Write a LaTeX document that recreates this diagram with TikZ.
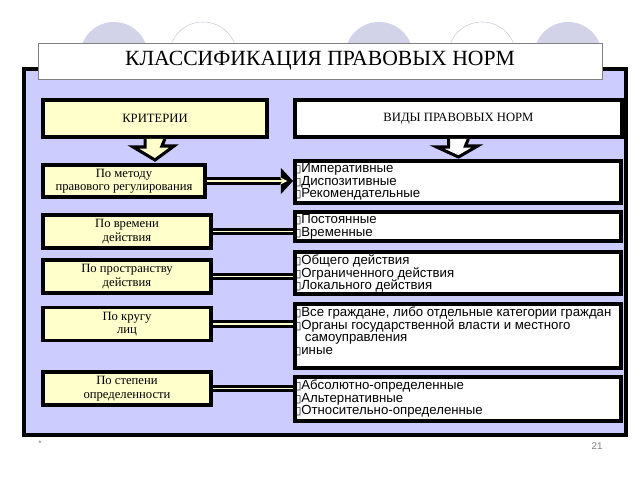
\documentclass[tikz,border=0pt]{standalone}
\usepackage{fontspec}
\setmainfont{Liberation Serif}
\setsansfont{Liberation Sans}
\newfontfamily\symfont{DejaVu Sans}
\usepackage{tikz}
\definecolor{panelfill}{RGB}{204,204,255}
\definecolor{critfill}{RGB}{255,255,204}
\definecolor{ballfill}{RGB}{210,210,232}
\definecolor{ballline}{RGB}{205,205,218}
\newcommand{\bx}{\smash{{\symfont\fontsize{7.5}{7.5}\selectfont ▯}}}
\newcommand{\kindfont}{\sffamily\fontsize{9.4}{8.9}\selectfont\lineskiplimit=-6pt\relax}

\begin{document}
\begin{tikzpicture}[x=0.025cm,y=-0.025cm]
\tikzstyle{every node}+=[inner sep=0pt]
\tikzstyle{critbox}=[draw=black,line width=2.8pt,fill=critfill,align=center,font=\fontsize{9}{9.6}\selectfont]
\tikzstyle{kindbox}=[draw=black,line width=2.8pt,fill=white,minimum width=8.15cm]
\tikzstyle{kindtext}=[anchor=north west,align=left,font=\kindfont]
\tikzstyle{link}=[line width=5.5pt,black]
\tikzstyle{linkin}=[line width=1.3pt,critfill]
\useasboundingbox (0,0) rectangle (640,480);
% balls behind the panel
\fill [ballfill] (114,56) circle (34);
\draw [ballline,fill=white] (203,56) circle (34);
\fill [ballfill] (379,56) circle (34);
\draw [ballline,fill=white] (482,56) circle (34);
\fill [ballfill] (568,56) circle (34);
% panel
\draw [line width=2.8pt,fill=panelfill] (24,69) rectangle (626,435);
\node [draw=gray,line width=0.6pt,fill=white,minimum width=14.1cm,minimum height=0.9cm,font=\fontsize{15.4}{16}\selectfont] (title) at (320,61) {КЛАССИФИКАЦИЯ ПРАВОВЫХ НОРМ};
% heads
\node [critbox,minimum width=5.6cm,minimum height=0.925cm] (crit) at (155,118.5) {КРИТЕРИИ};
\node [kindbox,minimum width=8.175cm,minimum height=0.925cm,font=\fontsize{9}{11}\selectfont] (kinds) at (458.5,118.5) {ВИДЫ ПРАВОВЫХ НОРМ};
% criteria
\node [critbox,minimum width=4.05cm,minimum height=0.8cm] (c1) at (124,181) {По методу\\правового регулирования};
\node [critbox,minimum width=4.2cm,minimum height=0.825cm] (c2) at (127,231.5) {По времени\\действия};
\node [critbox,minimum width=4.2cm,minimum height=0.825cm] (c3) at (127,276.5) {По пространству\\действия};
\node [critbox,minimum width=4.2cm,minimum height=0.825cm] (c4) at (127,324) {По кругу\\лиц};
\node [critbox,minimum width=4.2cm,minimum height=0.825cm] (c5) at (127,388.5) {По степени\\определенности};
% kinds of norms
\node [kindbox,minimum height=1.05cm] (k1) at (458,182) {};
\node [kindbox,minimum height=0.725cm] (k2) at (458,226.5) {};
\node [kindbox,minimum height=1.05cm] (k3) at (458,273) {};
\node [kindbox,minimum height=1.6cm] (k4) at (458,336) {};
\node [kindbox,minimum height=1.1cm] (k5) at (458,399) {};
\node [kindtext] (t1) at ([shift={(1.6pt,-3.2pt)}]k1.north west) {\bx Императивные\\\bx Диспозитивные\\\bx Рекомендательные};
\node [kindtext] (t2) at ([shift={(1.6pt,-3.2pt)}]k2.north west) {\bx Постоянные\\\bx Временные};
\node [kindtext] (t3) at ([shift={(1.6pt,-3.2pt)}]k3.north west) {\bx Общего действия\\\bx Ограниченного действия\\\bx Локального действия};
\node [kindtext] (t4) at ([shift={(1.6pt,-3.2pt)}]k4.north west) {\bx Все граждане, либо отдельные категории граждан\\\bx Органы государственной власти и местного\\\phantom{\bx} самоуправления\\\bx иные};
\node [kindtext] (t5) at ([shift={(1.6pt,-3.2pt)}]k5.north west) {\bx Абсолютно-определенные\\\bx Альтернативные\\\bx Относительно-определенные};
% block arrows down
\draw [line width=2.2pt,line join=miter,fill=critfill] ([xshift=-7]crit.south) -- ++(0,8) -- ++(-12,0) -- (155,160) -- (174,146) -- ++(-12,0) -- ([xshift=7]crit.south);
\draw [line width=2.2pt,line join=miter,fill=white] ([xshift=-7]kinds.south) -- ++(0,8) -- ++(-12,0) -- (458.5,157) -- (477.5,146) -- ++(-12,0) -- ([xshift=7]kinds.south);
% links
\draw [link] (c1.east) -- (c1.east -| 283,0);
\fill [black] (c1.east -| k1.west) -- ++(-12,-13) -- ++(0,26) -- cycle;
\draw [linkin,-stealth] (c1.east) -- ([xshift=-4]c1.east -| k1.west);
\foreach \c/\k in {c2/k2,c3/k3,c4/k4,c5/k5} {
  \draw [link] (\c.east) -- (\c.east -| \k.west);
  \draw [linkin] (\c.east) -- (\c.east -| \k.west);
}
% footer
\node [font=\sffamily\fontsize{6}{6}\selectfont,text=gray] (star) at (40,444) {*};
\node [font=\sffamily\fontsize{7}{7}\selectfont,text=gray] (page) at (597,446) {21};
\end{tikzpicture}
\end{document}
